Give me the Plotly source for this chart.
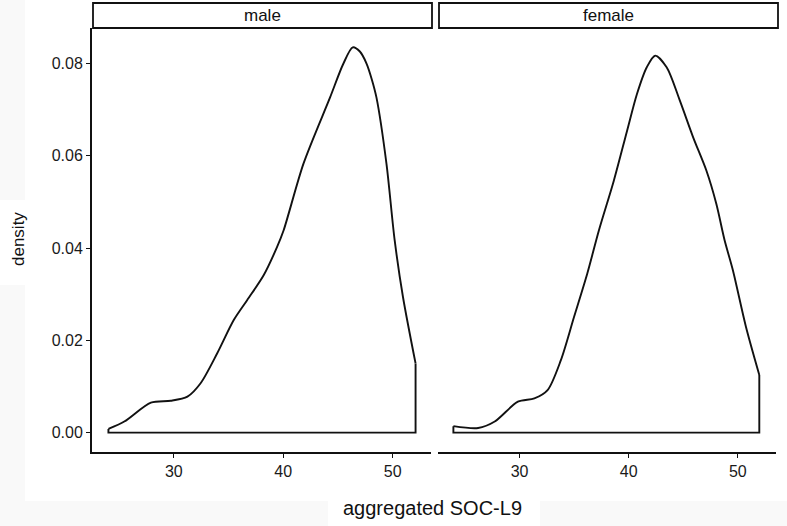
import plotly.graph_objects as go

W, H = 787, 526

# density curves
male_x = [24.03, 25.48, 27.91, 29.73, 31.25, 32.45, 33.97, 35.48, 36.70, 38.21,
          39.43, 40.03, 41.85, 44.27, 45.48, 46.35, 47.00, 47.61, 48.10, 48.52,
          49.43, 50.18, 50.94, 52.09]
male_y = [0.0008, 0.0024, 0.0065, 0.0069, 0.0078, 0.0107, 0.0172, 0.0244, 0.0287, 0.0341,
          0.0402, 0.0438, 0.0583, 0.0726, 0.0799, 0.0835, 0.0826, 0.0800, 0.0765, 0.0726,
          0.0583, 0.0417, 0.0294, 0.0150]

female_x = [23.94, 26.21, 27.73, 29.85, 31.36, 32.57, 33.79, 35.00, 36.21, 37.27,
            38.64, 39.85, 40.76, 41.66, 42.43, 43.48, 44.70, 45.91, 47.12, 48.03,
            48.79, 49.55, 50.75, 51.97]
female_y = [0.0014, 0.0010, 0.0024, 0.0067, 0.0074, 0.0092, 0.0157, 0.0251, 0.0345, 0.0438,
            0.0546, 0.0654, 0.0734, 0.0792, 0.0817, 0.0792, 0.0719, 0.0640, 0.0568, 0.0496,
            0.0417, 0.0352, 0.0229, 0.0125]

panels = ["male", "female"]
x_ticks = [30, 40, 50]
y_ticks = [0.0, 0.02, 0.04, 0.06, 0.08]

FONT = "Liberation Sans, Arial, sans-serif"
BLACK = "#111111"


def px_x(p):
    return p / W


def px_y(p):
    return 1 - p / H


fig = go.Figure()

series = [(male_x, male_y, "x", "y"), (female_x, female_y, "x2", "y2")]
for xs, ys, xa, ya in series:
    fig.add_trace(go.Scatter(
        x=xs, y=ys, xaxis=xa, yaxis=ya, mode="lines",
        line=dict(color=BLACK, width=1.9, shape="spline", smoothing=0.8),
        hoverinfo="skip", showlegend=False,
    ))
    # closing outline of the density polygon
    fig.add_trace(go.Scatter(
        x=[xs[-1], xs[-1], xs[0], xs[0]], y=[ys[-1], 0, 0, ys[0]],
        xaxis=xa, yaxis=ya, mode="lines",
        line=dict(color=BLACK, width=1.9),
        hoverinfo="skip", showlegend=False,
    ))

doms = [(92, 431), (438, 776)]
y_dom = [px_y(452), px_y(28)]
x_range = [22.53, 53.5]
y_range = [-0.0042, 0.0877]

axis_common = dict(
    showgrid=False, zeroline=False, showline=True, linecolor=BLACK, linewidth=2,
    ticks="outside", ticklen=4, tickwidth=1.3, tickcolor=BLACK,
    tickfont=dict(family=FONT, size=16, color="#1a1a1a"),
)

fig.update_layout(
    xaxis=dict(domain=[px_x(doms[0][0]), px_x(doms[0][1])], range=x_range,
               tickvals=x_ticks, anchor="y", **axis_common),
    xaxis2=dict(domain=[px_x(doms[1][0]), px_x(doms[1][1])], range=x_range,
                tickvals=x_ticks, anchor="y2", **axis_common),
    yaxis=dict(domain=y_dom, range=y_range, tickvals=y_ticks, tickformat=".2f",
               anchor="x", **axis_common),
    yaxis2=dict(domain=y_dom, range=y_range, anchor="x2", showgrid=False,
                zeroline=False, showline=False, showticklabels=False, ticks=""),
)

shapes = [
    # white main background over the light grey page
    dict(type="rect", xref="paper", yref="paper", x0=px_x(25), x1=1, y0=px_y(501), y1=1,
         fillcolor="white", line=dict(width=0), layer="below"),
    dict(type="rect", xref="paper", yref="paper", x0=0, x1=px_x(53), y0=px_y(285), y1=px_y(200),
         fillcolor="white", line=dict(width=0), layer="below"),
    dict(type="rect", xref="paper", yref="paper", x0=px_x(328), x1=px_x(540), y0=0, y1=px_y(472),
         fillcolor="white", line=dict(width=0), layer="below"),
]
strips = [(93, 432), (439, 778)]
for (a, b), name in zip(strips, panels):
    shapes.append(dict(type="rect", xref="paper", yref="paper",
                       x0=px_x(a), x1=px_x(b), y0=px_y(28), y1=px_y(3),
                       fillcolor="white", line=dict(color=BLACK, width=1.8)))

annotations = []
for (a, b), name in zip(strips, panels):
    annotations.append(dict(text=name, xref="paper", yref="paper",
                            x=px_x((a + b) / 2), y=px_y(15.5), xanchor="center",
                            yanchor="middle", showarrow=False,
                            font=dict(family=FONT, size=17, color=BLACK)))
annotations.append(dict(text="density", xref="paper", yref="paper", x=px_x(18), y=px_y(239),
                        xanchor="center", yanchor="middle", textangle=-90, showarrow=False,
                        font=dict(family=FONT, size=17, color=BLACK)))
annotations.append(dict(text="aggregated SOC-L9", xref="paper", yref="paper",
                        x=px_x(432), y=px_y(508), xanchor="center", yanchor="middle",
                        showarrow=False,
                        font=dict(family=FONT, size=20, color=BLACK)))

fig.update_layout(
    width=W, height=H,
    margin=dict(l=0, r=0, t=0, b=0),
    paper_bgcolor="#f9f9f9",
    plot_bgcolor="rgba(0,0,0,0)",
    shapes=shapes,
    annotations=annotations,
    showlegend=False,
)

fig.write_html("out.html", config={"displayModeBar": False},
               post_script="document.body.style.margin='0';")
